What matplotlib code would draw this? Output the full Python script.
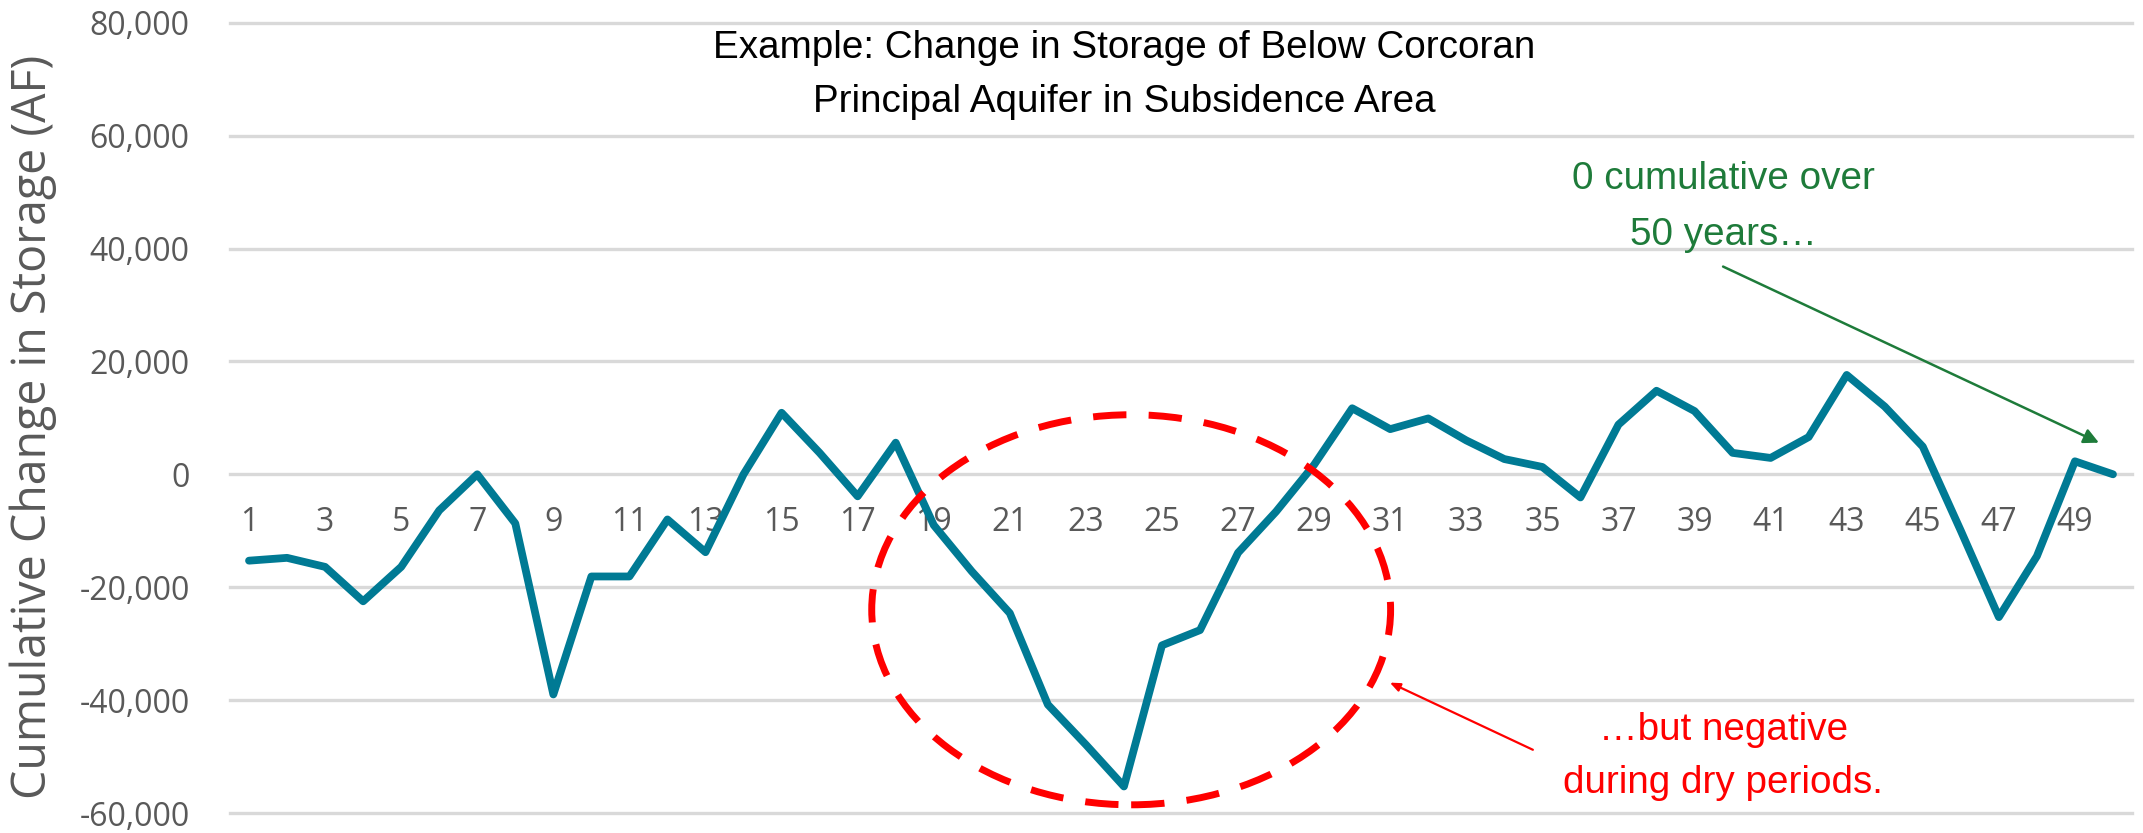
import matplotlib
matplotlib.use("Agg")
import matplotlib.pyplot as plt
from matplotlib.patches import Ellipse
from matplotlib.ticker import FuncFormatter, FixedLocator

# ---- data ----
years = list(range(1, 51))
storage_change = [
    -15300, -14800, -16400, -22500, -16400, -6400, 0, -8700, -39000, -18100,
    -18100, -8000, -13800, 0, 10900, 3800, -3900, 5600, -9000, -17200,
    -24600, -40800, -47900, -55300, -30300, -27600, -13900, -6600, 1700, 11700,
    8000, 9900, 6000, 2700, 1300, -4100, 8800, 14800, 11200, 3800,
    2900, 6600, 17600, 12000, 4900, -10000, -25300, -14500, 2300, 0,
]
xtick_years = list(range(1, 50, 2))
yticks = [-60000, -40000, -20000, 0, 20000, 40000, 60000, 80000]

title_lines = ["Example: Change in Storage of Below Corcoran",
               "Principal Aquifer in Subsidence Area"]
ylabel = "Cumulative Change in Storage (AF)"
green_lines = ["0 cumulative over", "50 years\u2026"]
red_lines = ["\u2026but negative", "during dry periods."]

LINE_C = "#007A94"
GRID_C = "#D9D9D9"
TICK_C = "#595959"
GREEN = "#1E7B3A"
RED = "#FF0000"

W, H = 2143, 833
fig = plt.figure(figsize=(W / 100, H / 100), dpi=100)
left, right, top, bottom = 230, 2132, 22.7, 813
ax = fig.add_axes([left / W, 1 - bottom / H, (right - left) / W, (bottom - top) / H])

ax.plot(years, storage_change, color=LINE_C, lw=5.6,
        solid_capstyle="round", solid_joinstyle="round", zorder=3)

ax.set_xlim(0.5, 50.5)
ax.set_ylim(-60000, 80000)

ax.yaxis.set_major_locator(FixedLocator(yticks))
ax.yaxis.set_major_formatter(FuncFormatter(lambda v, p: f"{int(v):,}"))
ax.set_xticks(xtick_years)
ax.set_xticklabels([str(x) for x in xtick_years])

for s in ["top", "right", "left"]:
    ax.spines[s].set_visible(False)
ax.spines["bottom"].set_position(("data", 0))
ax.spines["bottom"].set_visible(False)

ax.tick_params(axis="both", length=0, colors=TICK_C)
ax.tick_params(axis="y", pad=29)
ax.tick_params(axis="x", pad=23)
for lab in ax.get_xticklabels() + ax.get_yticklabels():
    lab.set_fontfamily(["Open Sans", "DejaVu Sans"])
    lab.set_fontsize(23)
    lab.set_color(TICK_C)

ax.yaxis.grid(True, color=GRID_C, lw=2.4)
ax.xaxis.grid(False)
ax.set_axisbelow(True)
for gl in ax.get_ygridlines():
    gl.set_clip_on(False)

# y label
fig.text(33 / W, 1 - 427 / H, ylabel, rotation=90, ha="center", va="center",
         fontsize=33.5, color=TICK_C, family=["Open Sans", "DejaVu Sans"])

# title
tfont = dict(family=["Liberation Sans", "DejaVu Sans"], size=27.8, color="black")
fig.text(1124 / W, 1 - 58 / H, title_lines[0], ha="center", va="baseline", **tfont)
fig.text(1124 / W, 1 - 112 / H, title_lines[1], ha="center", va="baseline", **tfont)

# red dashed ellipse
ell = Ellipse((24.19, -24000), width=13.64, height=69100, fill=False,
              edgecolor=RED, lw=5, linestyle=(0, (4.8, 3.2)), zorder=4)
ax.add_patch(ell)

afont = dict(family=["Liberation Sans", "DejaVu Sans"], size=27.8)
# green annotation
ax.text(39.75, 50600, green_lines[0], ha="center", va="baseline", color=GREEN, **afont)
ax.text(39.75, 40700, green_lines[1], ha="center", va="baseline", color=GREEN, **afont)
ax.annotate("", xy=(49.63, 5600), xytext=(39.75, 36800),
            arrowprops=dict(arrowstyle="-|>,head_length=0.9,head_width=0.45",
                            color=GREEN, lw=1.8, shrinkA=0, shrinkB=0), zorder=5)

# red annotation
ax.text(39.75, -47000, red_lines[0], ha="center", va="baseline", color=RED, **afont)
ax.text(39.75, -56400, red_lines[1], ha="center", va="baseline", color=RED, **afont)
ax.annotate("", xy=(30.99, -36900), xytext=(34.75, -48800),
            arrowprops=dict(arrowstyle="-|>,head_length=0.6,head_width=0.25",
                            color=RED, lw=1.6, shrinkA=0, shrinkB=0), zorder=5)

fig.savefig("out.png", dpi=100, facecolor="white")
